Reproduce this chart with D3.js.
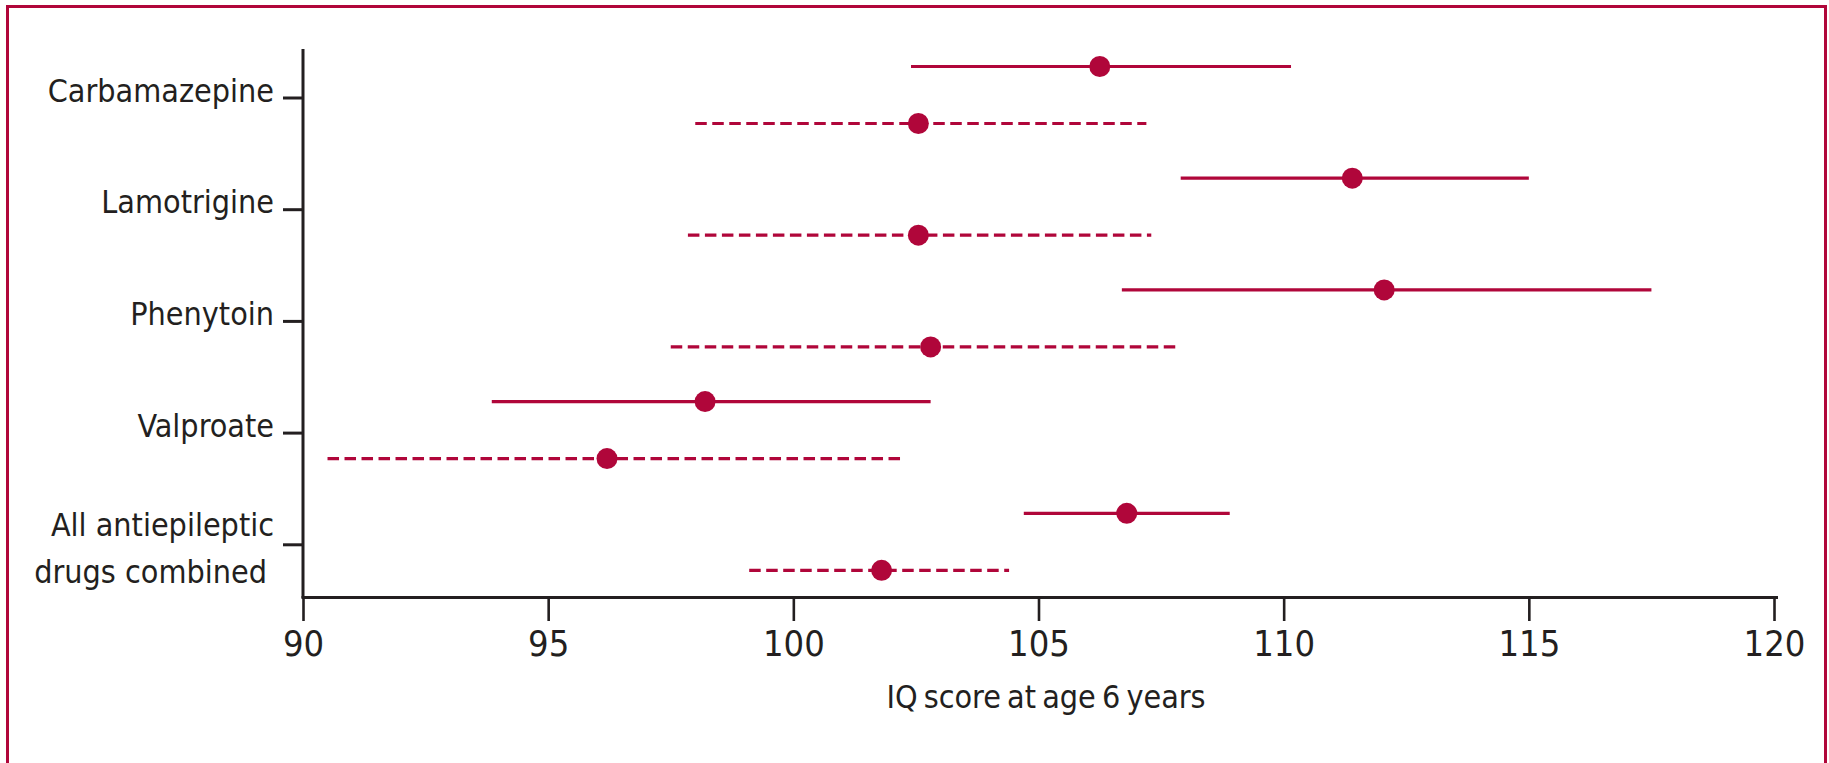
<!DOCTYPE html>
<html>
<head>
<meta charset="utf-8">
<script src="https://cdn.jsdelivr.net/npm/d3@7"></script>
<style>
  html, body { margin: 0; padding: 0; background: #fff; }
  svg { display: block; }
  text { font-family: "DejaVu Sans Condensed", "DejaVu Sans", sans-serif; font-stretch: condensed; fill: #231f20; }
</style>
</head>
<body>
<div id="chart"></div>
<script>
// IQ score at age 6 years, by drug (solid and dashed estimate per drug)

const categories = ["Carbamazepine", "Lamotrigine", "Phenytoin", "Valproate", "All antiepileptic drugs combined"];
const categoryLines = [["Carbamazepine"], ["Lamotrigine"], ["Phenytoin"], ["Valproate"], ["All antiepileptic", "drugs combined"]];

// solid line series
const solidMean = [106.25, 111.4, 112.05, 98.2, 106.8];
const solidLow = [102.4, 107.9, 106.7, 93.85, 104.7];
const solidHigh = [110.15, 115.0, 117.5, 102.8, 108.9];

// dashed line series
const dashedMean = [102.55, 102.55, 102.8, 96.2, 101.8];
const dashedLow = [98.0, 97.85, 97.5, 90.5, 99.1];
const dashedHigh = [107.2, 107.3, 107.9, 102.2, 104.4];

const xTicks = [90, 95, 100, 105, 110, 115, 120];
const xLabel = "IQ score at age 6 years";

const width = 1829;
const height = 763;
const red = "#b0063a";
const ink = "#231f20";

const svg = d3.select("#chart").append("svg")
  .attr("width", width)
  .attr("height", height);

// frame round the figure (no bottom edge, it runs off the page)
svg.append("path")
  .attr("d", `M7.5,${height} V6.5 H1825.5 V${height}`)
  .attr("fill", "none")
  .attr("stroke", red)
  .attr("stroke-width", 3);

const x = d3.scaleLinear().domain([90, 120]).range([303, 1774]);
const y = d3.scalePoint().domain(categories).range([97.5, 544.3]);

const rows = categories.map((c, i) => [
  { cat: c, dash: false, mean: solidMean[i], lo: solidLow[i], hi: solidHigh[i] },
  { cat: c, dash: true, mean: dashedMean[i], lo: dashedLow[i], hi: dashedHigh[i] },
]).flat();
const rowY = (d) => y(d.cat) + (d.dash ? 26 : -31);

// x axis
const xAxis = svg.append("g")
  .attr("transform", "translate(0,597)")
  .call(d3.axisBottom(x).tickValues(xTicks).tickSize(24).tickSizeOuter(0).tickPadding(9));
xAxis.select(".domain").attr("stroke", ink).attr("stroke-width", 3)
  .attr("d", `M${x(90) - 1.5},0.5H${x(120) + 4}`);
xAxis.selectAll(".tick line").attr("stroke", ink).attr("stroke-width", 2.6);
xAxis.selectAll(".tick text")
  .attr("font-size", 36)
  .attr("font-family", null)
  .attr("fill", ink);

// y axis
const yAxis = svg.append("g")
  .attr("transform", "translate(303,0)")
  .call(d3.axisLeft(y).tickSize(20).tickSizeOuter(0).tickFormat(""));
yAxis.select(".domain").attr("stroke", ink).attr("stroke-width", 3)
  .attr("d", "M0,49V598");
yAxis.selectAll(".tick line").attr("stroke", ink).attr("stroke-width", 3);

// category labels, two lines for the last one
const labels = svg.append("g").attr("font-size", 32).attr("text-anchor", "end");
categories.forEach((c, i) => {
  const lines = categoryLines[i];
  const t = labels.append("text").attr("y", lines.length > 1 ? y(c) - 8 : y(c) + 4);
  lines.forEach((l, j) => {
    t.append("tspan")
      .attr("x", j === 0 ? 274 : 267)
      .attr("dy", j === 0 ? 0 : 47)
      .text(l);
  });
});

// axis title
svg.append("text")
  .attr("x", 1046)
  .attr("y", 708)
  .attr("text-anchor", "middle")
  .attr("font-size", 32)
  .attr("word-spacing", -3)
  .text(xLabel);

// intervals
svg.append("g").selectAll("line")
  .data(rows)
  .join("line")
  .attr("x1", (d) => x(d.lo))
  .attr("x2", (d) => x(d.hi))
  .attr("y1", rowY)
  .attr("y2", rowY)
  .attr("stroke", red)
  .attr("stroke-width", 3.2)
  .attr("stroke-dasharray", (d) => (d.dash ? "11.5,5.5" : null));

// point estimates
svg.append("g").selectAll("circle")
  .data(rows)
  .join("circle")
  .attr("cx", (d) => x(d.mean))
  .attr("cy", rowY)
  .attr("r", 10.5)
  .attr("fill", red);
</script>
</body>
</html>
